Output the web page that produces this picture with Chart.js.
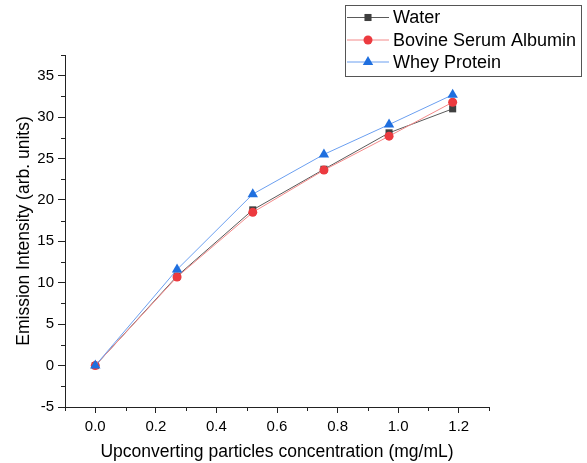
<!DOCTYPE html>
<html>
<head>
<meta charset="utf-8">
<script src="https://cdn.jsdelivr.net/npm/chart.js@4/dist/chart.umd.min.js"></script>
<style>
  html, body { margin: 0; padding: 0; background: #fff; }
  #wrap { width: 587px; height: 463px; position: relative; }
</style>
</head>
<body>
<div id="wrap"><canvas id="emissionChart" width="587" height="463"></canvas></div>
<script>
// Data
const concentrations = [0, 0.27, 0.52, 0.755, 0.97, 1.18];
const waterValues = [0, 10.8, 18.8, 23.7, 28.1, 31.0];
const bsaValues = [0, 10.7, 18.5, 23.6, 27.7, 31.8];
const wheyValues = [0, 11.6, 20.7, 25.5, 29.1, 32.7];
const seriesNames = ['Water', 'Bovine Serum Albumin', 'Whey Protein'];

// Axis ticks
const xTickValues = [0, 0.2, 0.4, 0.6, 0.8, 1.0, 1.2];
const xMinorValues = [-0.1, 0.1, 0.3, 0.5, 0.7, 0.9, 1.1, 1.3];
const yTickValues = [-5, 0, 5, 10, 15, 20, 25, 30, 35];
const yMinorValues = [-2.5, 2.5, 7.5, 12.5, 17.5, 22.5, 27.5, 32.5, 37.5];

const FONT = "'Liberation Sans', Arial, sans-serif";

function toPoints(values) {
    return concentrations.map((x, i) => ({ x: x, y: values[i] }));
}

// Minor ticks between the majors (Chart.js has none of its own)
const minorTicks = {
    id: 'minorTicks',
    afterDraw(chart) {
        const ctx = chart.ctx;
        const xs = chart.scales.x;
        const ys = chart.scales.y;
        const area = chart.chartArea;
        ctx.save();
        ctx.strokeStyle = '#222';
        ctx.lineWidth = 1;
        ctx.beginPath();
        xMinorValues.forEach(v => {
            const px = Math.round(xs.getPixelForValue(v)) + 0.5;
            ctx.moveTo(px, area.bottom);
            ctx.lineTo(px, area.bottom + 4);
        });
        yMinorValues.forEach(v => {
            const py = Math.round(ys.getPixelForValue(v)) + 0.5;
            ctx.moveTo(area.left, py);
            ctx.lineTo(area.left - 4, py);
        });
        ctx.stroke();
        ctx.restore();
    }
};

// Boxed legend in the upper right corner
const boxLegend = {
    id: 'boxLegend',
    afterDraw(chart) {
        const ctx = chart.ctx;
        ctx.save();
        ctx.strokeStyle = '#555';
        ctx.lineWidth = 1;
        ctx.fillStyle = '#fff';
        ctx.fillRect(345.5, 5.5, 236, 71);
        ctx.strokeRect(345.5, 5.5, 236, 71);
        const rows = [17.5, 40, 62];
        chart.data.datasets.forEach((ds, i) => {
            const y = rows[i];
            ctx.strokeStyle = ds.borderColor;
            ctx.lineWidth = 1;
            ctx.beginPath();
            ctx.moveTo(347, y);
            ctx.lineTo(389, y);
            ctx.stroke();
            ctx.fillStyle = ds.pointBackgroundColor;
            ctx.strokeStyle = ds.pointBackgroundColor;
            Chart.helpers.drawPoint(ctx, {
                pointStyle: ds.pointStyle,
                radius: ds.pointRadius,
                rotation: 0,
                borderWidth: 0
            }, 368, y);
            ctx.fillStyle = '#000';
            ctx.font = '18px ' + FONT;
            ctx.textBaseline = 'middle';
            ctx.fillText(seriesNames[i], 393, y + 1);
        });
        ctx.restore();
    }
};

function createChart() {
    const ctx = document.getElementById('emissionChart');
    return new Chart(ctx, {
        type: 'line',
        data: {
            datasets: [
                {
                    label: seriesNames[0],
                    data: toPoints(waterValues),
                    borderColor: '#5a5a5a',
                    borderWidth: 1,
                    pointStyle: 'rect',
                    pointRadius: 5,
                    pointBackgroundColor: '#3f3f3f',
                    pointBorderWidth: 0,
                    order: 2
                },
                {
                    label: seriesNames[1],
                    data: toPoints(bsaValues),
                    borderColor: '#f38a8a',
                    borderWidth: 1,
                    pointStyle: 'circle',
                    pointRadius: 4.5,
                    pointBackgroundColor: '#ec3a3f',
                    pointBorderWidth: 0,
                    order: 1
                },
                {
                    label: seriesNames[2],
                    data: toPoints(wheyValues),
                    borderColor: '#6b9ff0',
                    borderWidth: 1,
                    pointStyle: 'triangle',
                    pointRadius: 6,
                    pointBackgroundColor: '#1f6fdf',
                    pointBorderWidth: 0,
                    order: 0
                }
            ]
        },
        options: {
            responsive: false,
            animation: false,
            layout: { padding: { top: 55, right: 98, left: 0, bottom: 0 } },
            plugins: {
                legend: { display: false },
                tooltip: { enabled: false }
            },
            scales: {
                x: {
                    type: 'linear',
                    min: -0.1,
                    max: 1.3,
                    border: { display: true, color: '#222', width: 1 },
                    grid: { drawOnChartArea: false, tickLength: 6, color: '#222' },
                    afterBuildTicks: scale => {
                        scale.ticks = xTickValues.map(v => ({ value: v }));
                    },
                    ticks: {
                        color: '#000',
                        font: { family: FONT, size: 15 },
                        padding: 5,
                        callback: v => v.toFixed(1)
                    },
                    title: {
                        display: true,
                        text: 'Upconverting particles concentration (mg/mL)',
                        color: '#000',
                        font: { family: FONT, size: 17.5 },
                        padding: { top: 3, bottom: 0 }
                    },
                    afterFit: scale => { scale.height = 56; }
                },
                y: {
                    min: -5,
                    max: 37.5,
                    border: { display: true, color: '#222', width: 1 },
                    grid: { drawOnChartArea: false, tickLength: 7, color: '#222' },
                    afterBuildTicks: scale => {
                        scale.ticks = yTickValues.map(v => ({ value: v }));
                    },
                    ticks: {
                        color: '#000',
                        font: { family: FONT, size: 15 },
                        padding: 4
                    },
                    title: {
                        display: true,
                        text: 'Emission Intensity (arb. units)',
                        color: '#000',
                        font: { family: FONT, size: 17.5 },
                        padding: { top: 14, bottom: 0 }
                    },
                    afterFit: scale => { scale.width = 65; }
                }
            }
        },
        plugins: [minorTicks, boxLegend]
    });
}

createChart();
</script>
</body>
</html>
